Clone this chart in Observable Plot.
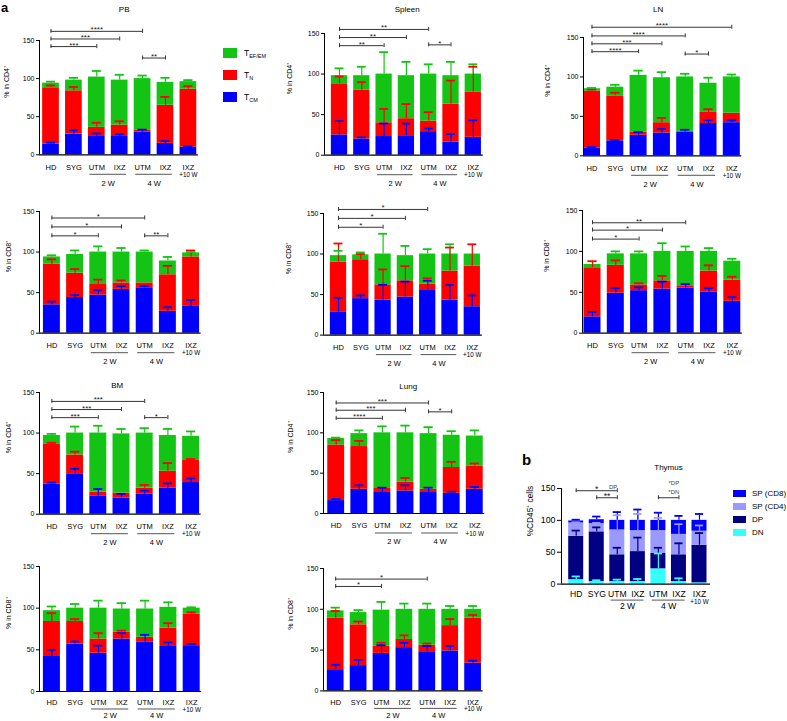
<!DOCTYPE html>
<html><head><meta charset="utf-8">
<script src="https://cdn.jsdelivr.net/npm/d3@7"></script>
<script src="https://cdn.jsdelivr.net/npm/@observablehq/plot@0.6"></script>
<style>
body{margin:0;background:#fff;font-family:"Liberation Sans",Arial,Helvetica,sans-serif;}
#fig{position:relative;width:787px;height:721px;overflow:hidden;background:#fff;}
.lab{position:absolute;font-weight:bold;color:#000;}
.leg{position:absolute;display:flex;align-items:center;color:#000;white-space:nowrap;}
.leg .sw{display:inline-block;margin-right:7px;}
.leg .tx{color:#000;}
.leg sub{font-size:5.5px;vertical-align:-2px;}
</style></head><body><div id="fig"></div>
<script>
// ---------- shared labels ----------
const categories = ["HD","SYG","UTM","IXZ","UTM","IXZ","IXZ"];
const weekGroups = [{label:"2 W",from:2,to:3},{label:"4 W",from:4,to:5}];
const lastBarNote = "+10 W";
const yTicks = [0,50,100,150];

// T-cell subsets, bottom to top of each stack
const tSubsets = ["TCM","TN","TEM"];
const tColors  = ["#0000ff","#ff0000","#14c414"];
const tLegend  = [{main:"T",sub:"EF/EM",color:"#14c414"},{main:"T",sub:"N",color:"#ff0000"},{main:"T",sub:"CM",color:"#0000ff"}];

// thymus subsets, bottom to top
const thySubsets = ["DN","DP","SP4","SP8"];
const thyColors  = ["#33ffff","#000080","#9999ff","#0000ff"];
const thyLegend  = [{name:"SP (CD8)",color:"#0000ff"},{name:"SP (CD4)",color:"#9999ff"},{name:"DP",color:"#000080"},{name:"DN",color:"#33ffff"}];

// ---------- PB ----------
const pbCD4Mean = {TCM:[14,27,24,24,30,15,10], TN:[74,57,12,15,2,50,76], TEM:[6,14,66,59,68,30,10]};
const pbCD4Sd   = {TCM:[2,5,4,3,3,3,1],        TN:[3,5,6,5,0,11,4],     TEM:[2,3,8,7,4,6,2]};
const pbCD4Sig  = [{a:0,b:2,y:142,label:"***"},{a:0,b:3,y:152,label:"***"},{a:0,b:4,y:162,label:"****"},{a:4,b:5,y:127,label:"**"}];

const pbCD8Mean = {TCM:[35,44,47,54,56,27,33], TN:[50,30,13,8,6,45,61], TEM:[9,23,40,38,38,17,5]};
const pbCD8Sd   = {TCM:[4,3,6,4,2,5,8],        TN:[6,5,6,3,0,11,8],    TEM:[2,5,7,5,2,5,1]};
const pbCD8Sig  = [{a:0,b:2,y:120,label:"*"},{a:0,b:3,y:131,label:"*"},{a:0,b:4,y:142,label:"*"},{a:4,b:5,y:120,label:"**"}];

// ---------- Spleen ----------
const spCD4Mean = {TCM:[25,20,23,24,29,16,22], TN:[63,60,17,21,13,47,56], TEM:[10,18,60,53,58,35,22]};
const spCD4Sd   = {TCM:[17,2,16,15,4,10,21],   TN:[9,10,17,18,11,29,31],  TEM:[9,11,27,17,12,17,12]};
const spCD4Sig  = [{a:0,b:2,y:135,label:"**"},{a:0,b:3,y:145,label:"**"},{a:0,b:4,y:155,label:"**"},{a:4,b:5,y:136,label:"*"}];

const spCD8Mean = {TCM:[28,45,43,47,56,43,35], TN:[62,48,19,20,7,36,50], TEM:[8,6,38,31,37,21,15]};
const spCD8Sd   = {TCM:[18,4,19,19,11,19,14],  TN:[23,7,19,18,7,29,27], TEM:[6,3,25,12,6,12,0]};
const spCD8Sig  = [{a:0,b:2,y:133,label:"*"},{a:0,b:3,y:144,label:"*"},{a:0,b:4,y:155,label:"*"}];

// ---------- LN ----------
const lnCD4Mean = {TCM:[10,19,26,29,30,41,42], TN:[72,57,4,13,1,14,12], TEM:[3,11,72,57,69,37,46]};
const lnCD4Sd   = {TCM:[1,1,4,5,3,4,3],        TN:[2,4,0,6,0,4,0],      TEM:[1,3,6,7,4,7,3]};
const lnCD4Sig  = [{a:0,b:2,y:132,label:"****"},{a:0,b:3,y:142,label:"***"},{a:0,b:4,y:152,label:"****"},{a:0,b:6,y:163,label:"****"},{a:4,b:5,y:129,label:"*"}];

const lnCD8Mean = {TCM:[20,49,52,54,55,50,39], TN:[60,34,7,10,3,26,26], TEM:[4,14,38,36,42,24,23]};
const lnCD8Sd   = {TCM:[6,6,4,9,5,5,5],        TN:[8,6,2,6,0,7,4],      TEM:[0,3,3,10,6,4,3]};
const lnCD8Sig  = [{a:0,b:2,y:115,label:"*"},{a:0,b:3,y:126,label:"*"},{a:0,b:4,y:135,label:"**"}];

// ---------- BM ----------
const bmCD4Mean = {TCM:[37,49,22,20,25,32,39], TN:[49,24,5,6,7,21,28], TEM:[11,27,73,73,68,44,29]};
const bmCD4Sd   = {TCM:[2,7,9,5,4,6,5],        TN:[2,4,0,0,4,10,1],     TEM:[2,8,9,6,6,8,6]};
const bmCD4Sig  = [{a:0,b:2,y:119,label:"***"},{a:0,b:3,y:129,label:"***"},{a:0,b:4,y:139,label:"***"},{a:4,b:5,y:119,label:"*"}];

const bmCD8Mean = {TCM:[42,57,46,63,59,54,55], TN:[42,27,17,8,6,22,38], TEM:[13,16,37,28,34,25,7]};
const bmCD8Sd   = {TCM:[8,3,9,7,9,5,2],        TN:[10,3,7,2,0,6,2],     TEM:[5,5,9,7,10,6,1]};
const bmCD8Sig  = [];

// ---------- Lung ----------
const luCD4Mean = {TCM:[16,30,26,28,26,25,30], TN:[69,53,5,11,4,32,29], TEM:[8,16,69,61,69,40,37]};
const luCD4Sd   = {TCM:[2,5,6,7,6,2,3],        TN:[6,7,0,5,0,7,3],      TEM:[1,4,8,9,8,5,7]};
const luCD4Sig  = [{a:0,b:2,y:118,label:"****"},{a:0,b:3,y:128,label:"***"},{a:0,b:4,y:137,label:"***"},{a:4,b:5,y:126,label:"*"}];

const luCD8Mean = {TCM:[26,31,46,53,48,49,34], TN:[63,50,9,10,8,31,55], TEM:[9,15,44,37,44,20,11]};
const luCD8Sd   = {TCM:[6,7,10,6,7,6,3],       TN:[9,4,4,5,2,8,4],      TEM:[4,3,10,7,7,4,4]};
const luCD8Sig  = [{a:0,b:2,y:128,label:"*"},{a:0,b:4,y:137,label:"*"}];

// ---------- Thymus ----------
const thyMean = {DN:[7,4,4,4,24,4,2], DP:[68,78,42,47,24,42,59], SP4:[21,13,39,33,36,32,22], SP8:[3,6,15,16,16,22,17]};
const thySd   = {DN:[5,2,3,4,24,5,0], DP:[9,7,11,22,9,18,19],   SP4:[1,1,23,26,20,16,9],   SP8:[2,5,13,17,12,7,10]};
const thySig  = [{a:0,b:2,y:146.5,label:"*"},{a:1,b:2,y:135.5,label:"**"},{a:4,b:5,y:135.5,label:""}];
const thyNotes = [{x:1.8,y:153,label:"DP"},{x:4.75,y:158,label:"*DP"},{x:4.75,y:145,label:"*DN"}];

// ---------- drawing ----------
const fig = document.getElementById("fig");
const FONT = "'Liberation Sans', Arial, Helvetica, sans-serif";

function drawPanel(p) {
  const L = p.layout, fs = p.fs;
  const n = categories.length;
  const mL = 55, mR = 20, mT = 70, mB = 45;
  const x0 = -L.off / L.sp, x1 = n - 1 + L.ext / L.sp;
  const plotW = (x1 - x0) * L.sp;
  const plotH = L.y0 - L.y150;
  const ppu = plotH / 150;
  const W = mL + plotW + mR, H = mT + plotH + mB;
  const rows = [];
  for (let i = 0; i < n; i++) {
    let base = 0;
    p.keys.forEach((k, j) => {
      const v = p.mean[k][i], s = p.sd[k][i];
      rows.push({i, j, y1: base, y2: base + v, sd: s, top: base + v + s});
      base += v;
    });
  }
  const errs = rows.filter(r => r.sd > 0);
  const hw = 0.365, cap = 0.2;
  const col = d => p.colors[d.j];
  const br = p.brackets;
  const brEnds = br.flatMap(b => [{x: b.a, y: b.y}, {x: b.b, y: b.y}]);
  const marks = [
    Plot.rectY(rows, {x1: d => d.i - hw, x2: d => d.i + hw, y1: d => d.y1, y2: d => d.y2, fill: col}),
    Plot.ruleX(errs, {x: d => d.i, y1: d => d.y2, y2: d => d.top, stroke: col, strokeWidth: 1.2}),
    Plot.ruleY(errs, {x1: d => d.i - cap, x2: d => d.i + cap, y: d => d.top, stroke: col, strokeWidth: 1.8}),
    Plot.ruleX([x0], {x: d => d, y1: () => 0, y2: () => 150, stroke: "#000", strokeWidth: 1}),
    Plot.ruleY([0], {y: d => d, x1: () => x0, x2: () => x1, stroke: "#000", strokeWidth: 1.2}),
    Plot.ruleY(yTicks, {y: d => d, x1: () => x0 - fs.tickLen / L.sp, x2: () => x0, stroke: "#000", strokeWidth: 1}),
    Plot.text(yTicks, {y: d => d, x: () => x0, dx: -(fs.tickLen + 2), textAnchor: "end", text: d => String(d), fontSize: fs.tick, fill: "#000"}),
    Plot.text(categories, {x: (d, i) => i, y: () => 0, dy: fs.dyCat, text: d => d, fontSize: fs.cat, fill: "#000"}),
    Plot.ruleY(weekGroups, {x1: d => d.from - 0.3, x2: d => d.to + 0.3, y: () => 0, dy: fs.dyLine, stroke: "#555", strokeWidth: 1}),
    Plot.text(weekGroups, {x: d => (d.from + d.to) / 2, y: () => 0, dy: fs.dyWeek, text: d => d.label, fontSize: fs.cat, fill: "#000"}),
    Plot.text([lastBarNote], {x: () => n - 1, y: () => 0, dy: fs.dyNote, text: d => d, fontSize: fs.note, fill: "#000"}),
    Plot.ruleY(br, {x1: d => d.a, x2: d => d.b, y: d => d.y, stroke: "#333", strokeWidth: 1}),
    Plot.ruleX(brEnds, {x: d => d.x, y1: d => d.y - 2 / ppu, y2: d => d.y + 2 / ppu, stroke: "#333", strokeWidth: 1}),
    Plot.text(br, {x: d => (d.a + d.b) / 2, y: d => d.y, dy: 1, lineAnchor: "bottom", text: d => d.label, fontSize: fs.star, fill: "#222"}),
    Plot.text([p.ylabel], {frameAnchor: "left", rotate: -90, dx: -L.ylab, text: d => d, fontSize: fs.ylab, fill: "#000"})
  ];
  if (p.title) {
    marks.push(Plot.text([p.title], {x: () => x0 + (L.tx - L.ax) / L.sp, y: () => 150 + (L.y150 - L.ty) / ppu, text: d => d, fontSize: fs.title, fill: "#000"}));
  }
  if (p.notes) {
    marks.push(Plot.text(p.notes, {x: d => d.x, y: d => d.y, text: d => d.label, fontSize: fs.noteSig, fill: "#444"}));
  }
  const svg = Plot.plot({
    width: W, height: H,
    marginLeft: mL, marginRight: mR, marginTop: mT, marginBottom: mB,
    x: {type: "linear", domain: [x0, x1], range: [mL, mL + plotW], axis: null},
    y: {type: "linear", domain: [0, 150], range: [mT + plotH, mT], axis: null},
    color: {type: "identity"},
    style: {fontFamily: FONT, background: "transparent", overflow: "visible"},
    marks
  });
  svg.style.position = "absolute";
  svg.style.left = (L.ax - mL) + "px";
  svg.style.top = (L.y150 - mT) + "px";
  svg.style.maxWidth = "none";
  fig.appendChild(svg);
}

const fsA = {tick: 7, cat: 7.5, title: 8, ylab: 7, note: 6.3, star: 8, tickLen: 3, dyCat: 12.5, dyLine: 19.5, dyWeek: 28.5, dyNote: 20};
const fsA4 = {...fsA, dyCat: 11.5, dyLine: 17.5, dyWeek: 24.5, dyNote: 18.5};
const fsB = {tick: 8.8, cat: 8.6, title: 8, ylab: 8.3, note: 6.3, star: 8.5, noteSig: 6, tickLen: 4, dyCat: 10, dyLine: 16, dyWeek: 22.5, dyNote: 18};

const panels = [
  {mean: pbCD4Mean, sd: pbCD4Sd, brackets: pbCD4Sig, title: "PB", ylabel: "% in CD4⁺", fs: fsA, layout: {ax: 39.3, y150: 40, y0: 154.3, off: 11.5, sp: 22.9, ext: 10, tx: 124, ty: 9, ylab: 33}},
  {mean: spCD4Mean, sd: spCD4Sd, brackets: spCD4Sig, title: "Spleen", ylabel: "% in CD4⁺", fs: fsA, layout: {ax: 324.3, y150: 33.3, y0: 155, off: 15, sp: 22.3, ext: 10, tx: 407, ty: 9, ylab: 35}},
  {mean: lnCD4Mean, sd: lnCD4Sd, brackets: lnCD4Sig, title: "LN", ylabel: "% in CD4⁺", fs: fsA, layout: {ax: 583.3, y150: 36.7, y0: 155, off: 8.5, sp: 23.3, ext: 10, tx: 658, ty: 9, ylab: 36}},
  {mean: pbCD8Mean, sd: pbCD8Sd, brackets: pbCD8Sig, ylabel: "% in CD8⁺", fs: fsA, layout: {ax: 39.3, y150: 211, y0: 332.7, off: 12.4, sp: 23.2, ext: 10, ylab: 31}},
  {mean: spCD8Mean, sd: spCD8Sd, brackets: spCD8Sig, ylabel: "% in CD8⁺", fs: fsA, layout: {ax: 323.3, y150: 212.7, y0: 334.3, off: 15, sp: 22.3, ext: 10, ylab: 35}},
  {mean: lnCD8Mean, sd: lnCD8Sd, brackets: lnCD8Sig, ylabel: "% in CD8⁺", fs: fsA, layout: {ax: 581.7, y150: 210, y0: 332.7, off: 10, sp: 23.3, ext: 10, ylab: 36}},
  {mean: bmCD4Mean, sd: bmCD4Sd, brackets: bmCD4Sig, title: "BM", ylabel: "% in CD4⁺", fs: fsA, layout: {ax: 39.3, y150: 392.3, y0: 514, off: 12.4, sp: 23.2, ext: 10, tx: 117, ty: 385, ylab: 31}},
  {mean: luCD4Mean, sd: luCD4Sd, brackets: luCD4Sig, title: "Lung", ylabel: "% in CD4⁺", fs: fsA, layout: {ax: 323.3, y150: 391.7, y0: 512.7, off: 12.7, sp: 23.1, ext: 10, tx: 408, ty: 386, ylab: 33}},
  {mean: bmCD8Mean, sd: bmCD8Sd, brackets: bmCD8Sig, ylabel: "% in CD8⁺", fs: fsA4, layout: {ax: 39.3, y150: 565.7, y0: 690.7, off: 12.4, sp: 23.3, ext: 10, ylab: 31}},
  {mean: luCD8Mean, sd: luCD8Sd, brackets: luCD8Sig, ylabel: "% in CD8⁺", fs: fsA4, layout: {ax: 323.3, y150: 568.3, y0: 690.7, off: 12.2, sp: 22.9, ext: 10, ylab: 33}}
];
panels.forEach(p => drawPanel({...p, keys: tSubsets, colors: tColors}));

drawPanel({mean: thyMean, sd: thySd, brackets: thySig, notes: thyNotes, keys: thySubsets, colors: thyColors, fs: fsB,
  title: "Thymus", ylabel: "%CD45⁺ cells",
  layout: {ax: 561, y150: 487.7, y0: 583.3, off: 14.7, sp: 20.55, ext: 11, tx: 668, ty: 467, ylab: 31}});

// ---------- panel letters and legends (HTML) ----------
function addDiv(cls, css, html) {
  const d = document.createElement("div");
  d.className = cls; d.style.cssText = css; d.innerHTML = html; fig.appendChild(d); return d;
}
addDiv("lab", "left:1px;top:0px;font-size:13px;", "a");
addDiv("lab", "left:522px;top:451px;font-size:15px;", "b");

tLegend.forEach((t, k) => {
  addDiv("leg", `left:223px;top:${47 + k * 22}px;height:12px;font-size:8.5px;`,
    `<span class="sw" style="width:14px;height:10px;background:${t.color}"></span><span class="tx">${t.main}<sub>${t.sub}</sub></span>`);
});
thyLegend.forEach((t, k) => {
  addDiv("leg", `left:733px;top:${487 + k * 13.2}px;height:12px;font-size:8px;`,
    `<span class="sw" style="width:13px;height:7px;margin-right:6px;background:${t.color}"></span><span class="tx">${t.name}</span>`);
});
</script>
</body></html>
